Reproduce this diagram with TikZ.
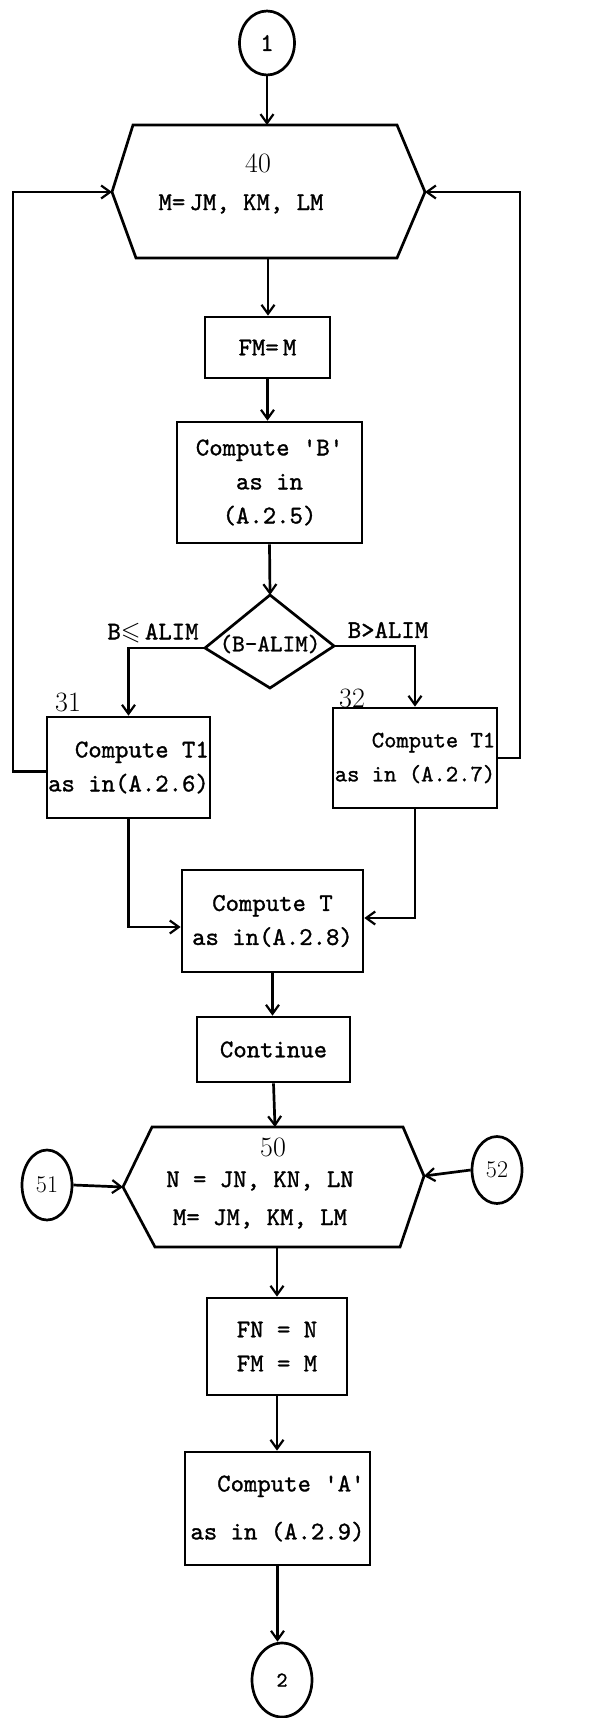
\documentclass[tikz,border=0pt]{standalone}
\usepackage{amssymb}
\usepackage{fontspec}
\usetikzlibrary{arrows.meta,shapes.geometric}
\newfontfamily\tw[FakeBold=1.2]{lmmono10-regular.otf}
\tikzset{
 ln/.style={line width=2.7pt},
 arr/.style={ln,-{Straight Barb[length=9pt,width=13pt,line width=2.2pt]}},
 twf/.style={font=\tw\fontsize{25.5}{34}\selectfont},
 box/.style={draw,ln,inner sep=0pt,align=center,twf},
 txt/.style={inner sep=0pt,twf},
 hw/.style={inner sep=0pt,font=\fontsize{28}{30}\selectfont},
 conn/.style={draw,ln,ellipse,inner sep=0pt},
}
\begin{document}
\begin{tikzpicture}[x=1pt,y=-1pt]
\useasboundingbox (0,0) rectangle (594,1718);
% connector 1
\node[conn,minimum width=55pt,minimum height=64pt,twf] (c1) at (267,43) {1};
% hexagon 40
\coordinate (h40n) at (267,125);
\coordinate (h40s) at (268,258);
\coordinate (h40w) at (112,192);
\coordinate (h40e) at (425,192);
\draw[ln] (133,125) -- (397,125) -- (h40e) -- (397,258) -- (136,258) -- (h40w) -- cycle;
\node[hw] (h40a) at (258,163) {40};
\node[txt] (h40b) at (241,204) {M=\,JM, KM, LM};
% FM = M
\node[box,minimum width=125pt,minimum height=61pt] (fm) at (267.5,347.5) {FM=\,M};
% Compute B
\node[box,minimum width=185pt,minimum height=121pt] (bb) at (269.5,482.5) {Compute \textquotesingle B\textquotesingle\\as in\\(A.2.5)};
% diamond
\coordinate (dn) at (270,595);
\coordinate (de) at (334,646);
\coordinate (ds) at (270,688);
\coordinate (dw) at (205,648);
\draw[ln] (dn) -- (de) -- (ds) -- (dw) -- cycle;
\node[txt,font=\tw\fontsize{24}{30}\selectfont] (dt) at (270,644) {(B-ALIM)};
\node[txt] (lle) at (153,633) {B$\leqslant$\,ALIM};
\node[txt] (lgt) at (388,630) {B>ALIM};
% boxes 31, 32
\node[box,align=right,minimum width=163pt,minimum height=101pt] (b31) at (128.5,767.5) {Compute T1\\as in(A.2.6)};
\node[hw] (n31) at (68,702) {31};
\node[box,align=right,minimum width=164pt,minimum height=100pt,font=\tw\fontsize{23.5}{34}\selectfont] (b32) at (415,758) {Compute T1\\as in (A.2.7)};
\node[hw] (n32) at (352,698) {32};
% Compute T
\node[box,minimum width=181pt,minimum height=102pt] (ct) at (272.5,921) {Compute T\\as in(A.2.8)};
% Continue
\node[box,minimum width=153pt,minimum height=65pt] (co) at (273.5,1049.5) {Continue};
% hexagon 50
\coordinate (h50n) at (275,1127);
\coordinate (h50s) at (277,1247);
\coordinate (h50w) at (123,1187);
\coordinate (h50e) at (424,1176);
\draw[ln] (152,1127) -- (403,1127) -- (h50e) -- (400,1247) -- (155,1247) -- (h50w) -- cycle;
\node[hw] (h50a) at (273,1147) {50};
\node[txt] (h50b) at (260,1181) {N = JN, KN, LN};
\node[txt] (h50c) at (260,1219) {M= JM, KM, LM};
\node[conn,minimum width=50pt,minimum height=70pt,font=\fontsize{24}{26}\selectfont] (c51) at (47,1185) {51};
\node[conn,minimum width=50pt,minimum height=67pt,font=\fontsize{24}{26}\selectfont] (c52) at (497,1170) {52};
% FN FM
\node[box,minimum width=140pt,minimum height=97pt] (fn) at (277,1346.5) {FN = N\\FM = M};
% Compute A
\node[box,align=right,minimum width=185pt,minimum height=113pt] (ca) at (277.5,1508.5) {Compute \textquotesingle A\textquotesingle\\[14pt]as in (A.2.9)};
% connector 2
\node[conn,minimum width=60pt,minimum height=74pt,font=\tw\fontsize{21}{24}\selectfont] (c2) at (282,1680) {2};
% loop rails
\coordinate (lk) at (13,0);
\coordinate (rk) at (520,0);
% arrows
\draw[arr] (c1.south) -- (h40n);
\draw[arr] (h40s) -- (h40s |- fm.north);
\draw[arr] (fm.south) -- (fm.south |- bb.north);
\draw[arr] (bb.south) -- (dn);
\draw[arr] (dw) -| (b31.north);
\draw[arr] (de) -| (b32.north);
\draw[arr] ([yshift=-4pt]b31.west) -- ([yshift=-4pt]b31.west -| lk) -- (lk |- h40w) -- (h40w);
\draw[arr] (b32.east) -- (b32.east -| rk) -- (rk |- h40e) -- (h40e);
\draw[arr] (b31.south) |- ([yshift=-6pt]ct.west);
\draw[arr] (b32.south) |- ([yshift=3pt]ct.east);
\draw[arr] (ct.south) -- (ct.south |- co.north);
\draw[arr] (co.south) -- (h50n);
\draw[arr] (c51.east) -- (h50w);
\draw[arr] (c52.west) -- (h50e);
\draw[arr] (h50s) -- (h50s |- fn.north);
\draw[arr] (fn.south) -- (fn.south |- ca.north);
\draw[arr] (ca.south) -- (ca.south |- c2.north);
\end{tikzpicture}
\end{document}
